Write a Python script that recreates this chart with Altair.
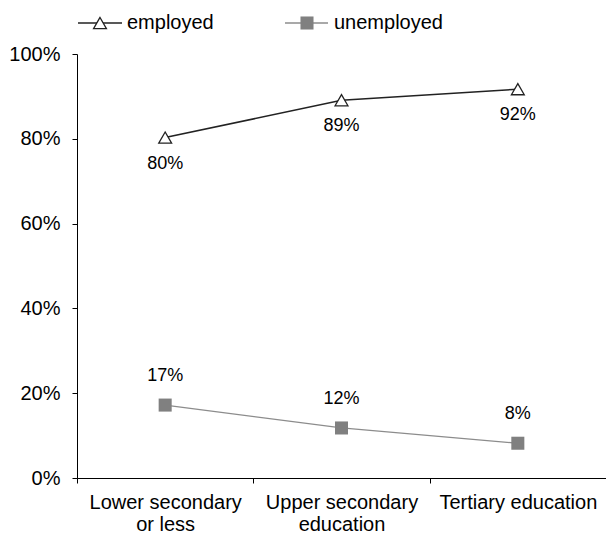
import altair as alt
import pandas as pd

categories = ["Lower secondary or less", "Upper secondary education", "Tertiary education"]
category_lines = [["Lower secondary", "or less"], ["Upper secondary", "education"], ["Tertiary education"]]
employed = [0.803, 0.891, 0.917]
unemployed = [0.172, 0.118, 0.082]
series = ["employed", "unemployed"]

rows = []
for c, e, u in zip(categories, employed, unemployed):
    rows.append({"category": c, "status": "employed", "value": e})
    rows.append({"category": c, "status": "unemployed", "value": u})
df = pd.DataFrame(rows)

FONT = "Liberation Sans"
FS = 20
LFS = 18
label_expr = " : ".join(
    f"datum.value == '{c}' ? {lines!r}" for c, lines in zip(categories, category_lines)
) + " : datum.label"

x = alt.X("category:N", sort=categories, title=None,
          scale=alt.Scale(paddingInner=0, paddingOuter=0),
          axis=alt.Axis(labelAngle=0, tickBand="extent", domainColor="black", tickColor="black",
                        tickSize=5, labelPadding=9, labelFontSize=FS, labelFont=FONT,
                        labelColor="black", labelExpr=label_expr, labelLineHeight=22,
                        labelBaseline="top", grid=False))
y = alt.Y("value:Q", title=None,
          scale=alt.Scale(domain=[0, 1], nice=False, zero=True),
          axis=alt.Axis(format=".0%", values=[0, 0.2, 0.4, 0.6, 0.8, 1.0], domainColor="black",
                        tickColor="black", tickSize=5, labelPadding=12, labelFontSize=FS,
                        labelFont=FONT, labelColor="black", grid=False))

base = alt.Chart(df)

emp = base.transform_filter(alt.datum.status == "employed")
unemp = base.transform_filter(alt.datum.status == "unemployed")

emp_line = emp.mark_line(color="#222222", strokeWidth=1.6).encode(x=x, y=y)
emp_pts = emp.mark_point(shape="triangle-up", size=165, filled=True, fill="white",
                         stroke="#222222", strokeWidth=1.3, opacity=1).encode(x=x, y=y)
emp_txt = emp.mark_text(dy=26, fontSize=LFS, font=FONT, color="black").encode(
    x=x, y=y, text=alt.Text("value:Q", format=".0%"))

un_line = unemp.mark_line(color="#8c8c8c", strokeWidth=1.3).encode(x=x, y=y)
un_pts = unemp.mark_point(shape="square", size=170, filled=True, color="#808080", opacity=1).encode(x=x, y=y)
un_txt = unemp.mark_text(dy=-29, fontSize=LFS, font=FONT, color="black").encode(
    x=x, y=y, text=alt.Text("value:Q", format=".0%"))

# manual legend
leg_emp = pd.DataFrame({"label": [series[0]]})
leg_un = pd.DataFrame({"label": [series[1]]})
LY = -31
l1 = alt.Chart(leg_emp).mark_rule(color="#222222", strokeWidth=1.6).encode(
    x=alt.value(1), x2=alt.value(45), y=alt.value(LY))
p1 = alt.Chart(leg_emp).mark_point(shape="triangle-up", size=165, filled=True, fill="white",
                                   stroke="#222222", strokeWidth=1.3, opacity=1).encode(
    x=alt.value(23), y=alt.value(LY))
t1 = alt.Chart(leg_emp).mark_text(align="left", baseline="middle", fontSize=FS, font=FONT,
                                  color="black").encode(x=alt.value(50), y=alt.value(LY), text="label:N")
l2 = alt.Chart(leg_un).mark_rule(color="#8c8c8c", strokeWidth=1.3).encode(
    x=alt.value(208), x2=alt.value(251), y=alt.value(LY))
p2 = alt.Chart(leg_un).mark_point(shape="square", size=170, filled=True, color="#808080",
                                  opacity=1).encode(x=alt.value(230), y=alt.value(LY))
t2 = alt.Chart(leg_un).mark_text(align="left", baseline="middle", fontSize=FS, font=FONT,
                                 color="black").encode(x=alt.value(257), y=alt.value(LY), text="label:N")

chart = alt.layer(emp_line, un_line, emp_pts, un_pts, emp_txt, un_txt, l1, p1, t1, l2, p2, t2).properties(
    width=529, height=424,
    autosize=alt.AutoSizeParams(type="none"),
    padding={"left": 69, "top": 46, "right": 0, "bottom": 58},
    background="white",
).configure_view(stroke=None)

chart.save("out.html", embed_options={"renderer": "svg", "actions": False})
